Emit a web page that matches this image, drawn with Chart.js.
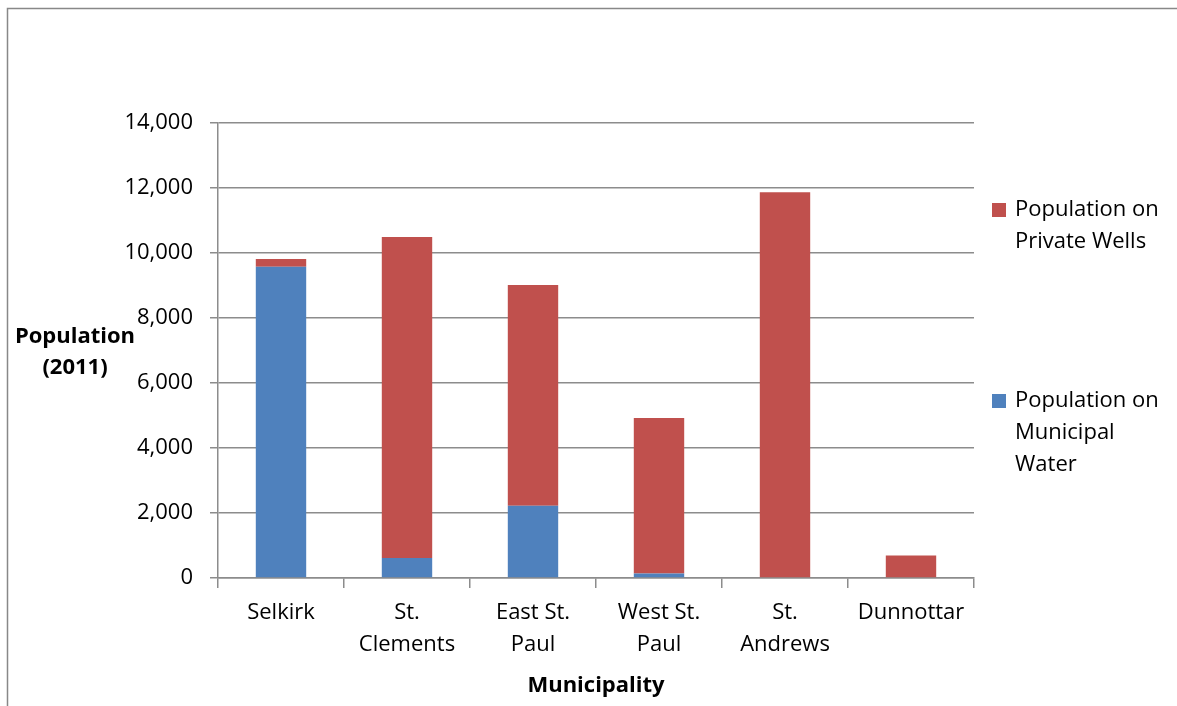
<!DOCTYPE html>
<html><head>
<meta charset="utf-8">
<script src="https://cdn.jsdelivr.net/npm/chart.js@4"></script>
<style>html,body{margin:0;padding:0;background:#fff}#wrap{width:1177px;height:706px;position:relative}</style>
</head><body>
<div id="wrap"><canvas id="c" width="1177" height="706"></canvas></div>
<script>
const categories = ['Selkirk', ['St.', 'Clements'], ['East St.', 'Paul'], ['West St.', 'Paul'], ['St.', 'Andrews'], 'Dunnottar'];
const municipalWater = [9580, 615, 2225, 135, 0, 0];
const privateWells = [235, 9880, 6790, 4790, 11870, 690];
const municipalLabel = ['Population on', 'Municipal', 'Water'];
const privateLabel = ['Population on', 'Private Wells'];
const yTitle = ['Population', '(2011)'];
const xTitle = 'Municipality';

const FONT = '"Open Sans", sans-serif';
const FS = 22;
const GRID = '#8c8c8c';
const BLUE = '#4F81BD';
const RED = '#C0504D';

const decor = {
  id: 'decor',
  beforeDraw(chart) {
    const ctx = chart.ctx;
    ctx.save();
    ctx.strokeStyle = '#888';
    ctx.lineWidth = 1.5;
    ctx.beginPath();
    ctx.moveTo(1177, 8.5);
    ctx.lineTo(7.5, 8.5);
    ctx.lineTo(7.5, 706);
    ctx.stroke();
    ctx.restore();
  },
  afterDraw(chart) {
    const ctx = chart.ctx;
    const ca = chart.chartArea;
    ctx.save();
    ctx.fillStyle = '#000';
    ctx.textBaseline = 'middle';
    ctx.textAlign = 'center';
    ctx.font = 'bold ' + FS + 'px ' + FONT;
    yTitle.forEach((t, i) => ctx.fillText(t, 75, 337 + i * 31));
    ctx.fillText(xTitle, (ca.left + ca.right) / 2, 686);
    // legend
    ctx.textAlign = 'left';
    ctx.font = FS + 'px ' + FONT;
    const items = [
      {color: RED, lines: privateLabel, y: 210},
      {color: BLUE, lines: municipalLabel, y: 401}
    ];
    items.forEach(it => {
      ctx.fillStyle = it.color;
      ctx.fillRect(992, it.y - 7, 14, 14);
      ctx.fillStyle = '#000';
      it.lines.forEach((l, i) => ctx.fillText(l, 1015, it.y + i * 32));
    });
    ctx.restore();
  }
};

new Chart(document.getElementById('c'), {
  type: 'bar',
  data: {
    labels: categories,
    datasets: [
      {label: municipalLabel.join(' '), data: municipalWater, backgroundColor: BLUE, stack: 's'},
      {label: privateLabel.join(' '), data: privateWells, backgroundColor: RED, stack: 's'}
    ]
  },
  options: {
    responsive: false,
    animation: false,
    devicePixelRatio: 1,
    layout: {padding: {left: 0, right: 203, top: 123, bottom: 0}},
    plugins: {legend: {display: false}, tooltip: {enabled: false}},
    datasets: {bar: {categoryPercentage: 1, barPercentage: 0.4}},
    scales: {
      x: {
        stacked: true,
        afterFit: s => { s.height = 128; },
        grid: {offset: true, drawOnChartArea: false, drawTicks: true, tickLength: 10, color: GRID, lineWidth: 1.5},
        border: {display: true, color: GRID, width: 1.5},
        ticks: {color: '#000', font: {family: FONT, size: FS, lineHeight: 32 / FS}, padding: 9, maxRotation: 0, autoSkip: false}
      },
      y: {
        stacked: true,
        min: 0, max: 14000,
        afterFit: s => { s.width = 218; },
        grid: {drawTicks: true, tickLength: 8, color: GRID, lineWidth: 1.5},
        border: {display: true, color: GRID, width: 1.5},
        ticks: {stepSize: 2000, color: '#000', font: {family: FONT, size: FS}, padding: 17,
          callback: v => v.toLocaleString('en-US')}
      }
    }
  },
  plugins: [decor]
});
</script>
</body></html>
